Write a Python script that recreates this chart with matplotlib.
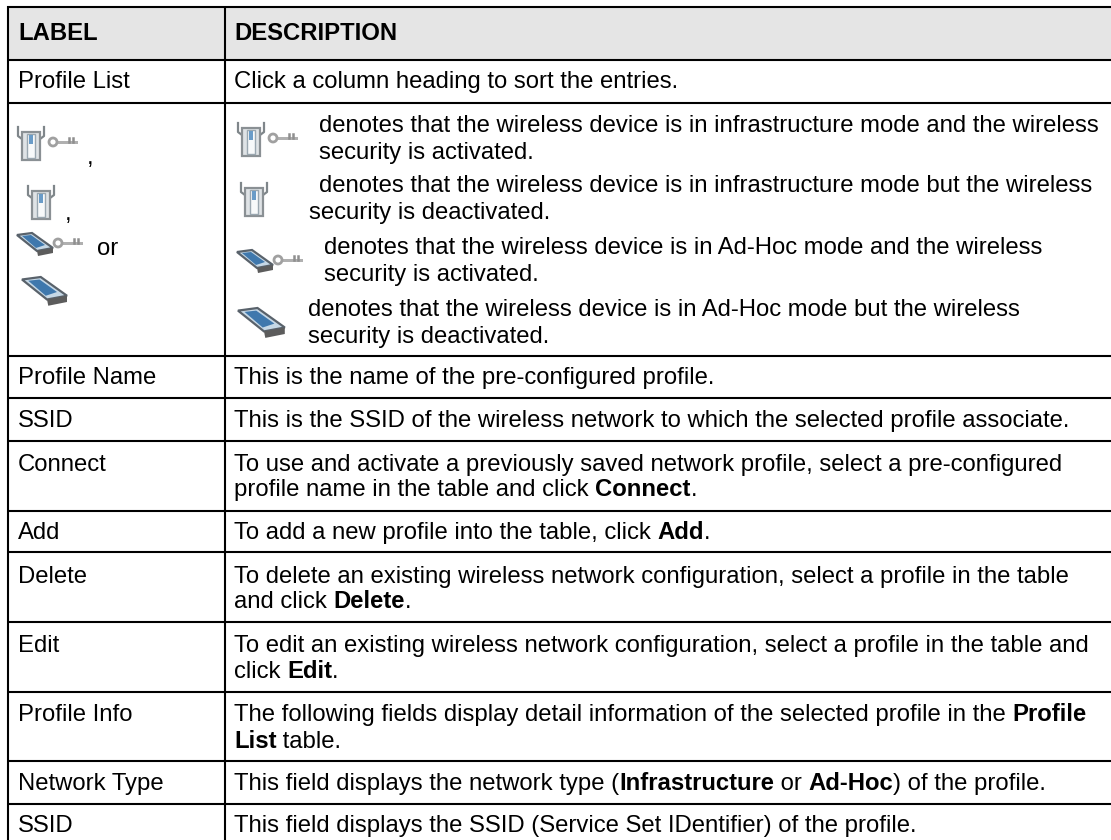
import matplotlib
matplotlib.use("Agg")
import matplotlib.pyplot as plt
from matplotlib.patches import Polygon, Rectangle, Circle

W, H = 1111, 840
FS = 17.2
FONT = "Liberation Sans"

h_lines = [6.5, 60, 102.5, 356, 398, 441, 511, 552, 622, 692, 761, 804]
v_lines = [8, 225]

labels = [
    ("Profile List", 88), ("Profile Name", 384), ("SSID", 427), ("Connect", 471),
    ("Add", 539), ("Delete", 583), ("Edit", 652), ("Profile Info", 721),
    ("Network Type", 790), ("SSID", 832),
]
# each description line: x, baseline, [(text, bold), ...]
descriptions = [
    (234, 88, [("Click a column heading to sort the entries.", 0)]),
    (319, 132, [("denotes that the wireless device is in infrastructure mode and the wireless", 0)]),
    (319, 159, [("security is activated.", 0)]),
    (319, 192, [("denotes that the wireless device is in infrastructure mode but the wireless", 0)]),
    (309, 219, [("security is deactivated.", 0)]),
    (324, 254, [("denotes that the wireless device is in Ad-Hoc mode and the wireless", 0)]),
    (324, 281, [("security is activated.", 0)]),
    (308, 316, [("denotes that the wireless device is in Ad-Hoc mode but the wireless", 0)]),
    (308, 343, [("security is deactivated.", 0)]),
    (234, 384, [("This is the name of the pre-configured profile.", 0)]),
    (234, 427, [("This is the SSID of the wireless network to which the selected profile associate.", 0)]),
    (234, 471, [("To use and activate a previously saved network profile, select a pre-configured", 0)]),
    (234, 496, [("profile name in the table and click ", 0), ("Connect", 1), (".", 0)]),
    (234, 539, [("To add a new profile into the table, click ", 0), ("Add", 1), (".", 0)]),
    (234, 583, [("To delete an existing wireless network configuration, select a profile in the table", 0)]),
    (234, 608, [("and click ", 0), ("Delete", 1), (".", 0)]),
    (234, 652, [("To edit an existing wireless network configuration, select a profile in the table and", 0)]),
    (234, 678, [("click ", 0), ("Edit", 1), (".", 0)]),
    (234, 721, [("The following fields display detail information of the selected profile in the ", 0), ("Profile", 1)]),
    (234, 748, [("List", 1), (" table.", 0)]),
    (234, 790, [("This field displays the network type (", 0), ("Infrastructure", 1), (" or ", 0), ("Ad-Hoc", 1), (") of the profile.", 0)]),
    (234, 832, [("This field displays the SSID (Service Set IDentifier) of the profile.", 0)]),
]
separators = [(87, 164, ","), (65, 220, ","), (97, 255, "or")]
device_icons = [(17, 127, 1), (27, 186, 0), (237, 123, 1), (240, 183, 0)]
card_icons = [(17, 233, 1, 1.0), (22, 277, 0, 1.25), (237, 250, 1, 1.0), (238, 308, 0, 1.3)]

fig = plt.figure(figsize=(W / 100, H / 100), dpi=100, facecolor="white")
ax = fig.add_axes([0, 0, 1, 1])
ax.set_xlim(0, W)
ax.set_ylim(H, 0)
ax.axis("off")

ax.add_patch(Rectangle((8, 6.5), W - 8, 53.5, fc="#e5e5e5", ec="none", zorder=0))
for y in h_lines:
    ax.plot([7, W], [y, y], color="black", lw=1.5, solid_capstyle="butt", zorder=2)
for x in v_lines:
    ax.plot([x, x], [5.5, H], color="black", lw=1.5, solid_capstyle="butt", zorder=2)


def write(x, y, segments):
    r = fig.canvas.get_renderer()
    for s, bold in segments:
        weight = "bold" if bold else "normal"
        ax.text(x, y, s, fontsize=FS, family=FONT, va="baseline", ha="left",
                fontweight=weight, color="black")
        # trailing spaces are not measured, so measure with a sentinel
        a = ax.text(0, 0, s + "|", fontsize=FS, family=FONT, fontweight=weight)
        b = ax.text(0, 0, "|", fontsize=FS, family=FONT, fontweight=weight)
        x += a.get_window_extent(r).width - b.get_window_extent(r).width
        a.remove()
        b.remove()


def key(x, y):
    ax.add_patch(Circle((x + 5, y), 4, fc="white", ec="#a0a0a0", lw=2, zorder=4))
    ax.add_patch(Rectangle((x + 9, y - 1.5), 21, 3.5, fc="#b0b0b0", ec="none", zorder=3))
    ax.plot([x + 21, x + 21], [y - 4, y], color="#8f8f8f", lw=1.8, zorder=3)
    ax.plot([x + 25, x + 25], [y - 4, y], color="#8f8f8f", lw=1.8, zorder=3)


def device(x, y, with_key):
    ax.plot([x + 1, x + 1, x + 5], [y, y + 9, y + 12], color="#7f868a", lw=1.6, zorder=3)
    ax.plot([x + 27, x + 27, x + 23], [y, y + 9, y + 12], color="#7f868a", lw=1.6, zorder=3)
    ax.add_patch(Rectangle((x + 5, y + 5), 18, 28, fc="#dfe3e6", ec="#8a9094", lw=1.6, zorder=3))
    ax.add_patch(Rectangle((x + 10, y + 7), 8, 24, fc="#f7f9fa", ec="#9aa7b0", lw=1, zorder=4))
    ax.add_patch(Rectangle((x + 12, y + 8), 4, 9, fc="#6a9cc8", ec="none", zorder=5))
    if with_key:
        key(x + 31, y + 15)


def card(x, y, with_key, s):
    p = lambda px, py: (x + px * s, y + py * s)
    ax.add_patch(Polygon([p(0, 2), p(15, 0), p(36, 15), p(20, 18)],
                         fc="#c6d8e6", ec="#59626b", lw=1.6, zorder=3))
    ax.add_patch(Polygon([p(5, 3), p(14, 2), p(28, 12), p(19, 15)],
                         fc="#3f78ad", ec="none", zorder=4))
    ax.add_patch(Polygon([p(20, 18), p(36, 15), p(36, 20), p(21, 23)],
                         fc="#5c5c5c", ec="none", zorder=4))
    if with_key:
        key(x + 36, y + 10)


for text, y in labels:
    write(18, y, [(text, 0)])
write(18, 40, [("LABEL", 1)])
write(234, 40, [("DESCRIPTION", 1)])
for x, y, segs in descriptions:
    write(x, y, segs)
for x, y, s in separators:
    write(x, y, [(s, 0)])
for x, y, k in device_icons:
    device(x, y, k)
for x, y, k, s in card_icons:
    card(x, y, k, s)

fig.savefig("out.png", dpi=100, facecolor="white")
